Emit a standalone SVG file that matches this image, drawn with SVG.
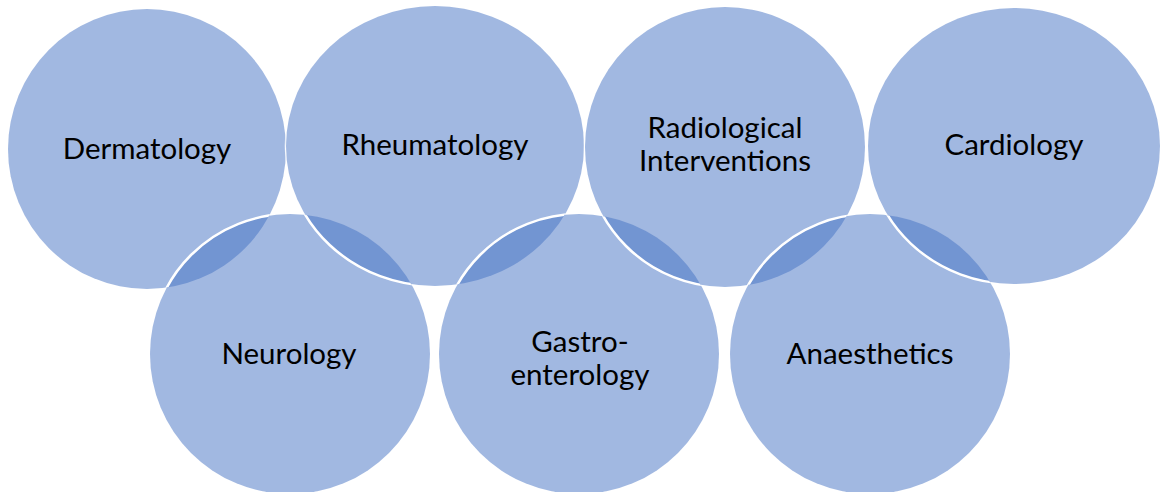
<svg xmlns="http://www.w3.org/2000/svg" xmlns:xlink="http://www.w3.org/1999/xlink" width="1162" height="492" viewBox="0 0 1162 492">
  <style>
    .ring { fill: #4472C4; fill-opacity: 0.5; stroke: none; }
    .edge { fill: none; stroke: #FFFFFF; stroke-width: 2.5; }
    .label { font-family: Lato, "Liberation Sans", sans-serif; font-size: 29.5px; fill: #000000; text-anchor: middle; }
  </style>
  <defs>
    <!-- ring outlines, shared by fills, clips and over-edges -->
    <ellipse id="shape-derm" cx="147" cy="149" rx="139" ry="140"/>
    <ellipse id="shape-rheum" cx="435" cy="146" rx="149" ry="140"/>
    <ellipse id="shape-radio" cx="725" cy="147" rx="140" ry="140"/>
    <ellipse id="shape-cardio" cx="1014" cy="146" rx="146" ry="138"/>
    <ellipse id="shape-neuro" cx="290" cy="354" rx="140" ry="140"/>
    <ellipse id="shape-gastro" cx="579" cy="354" rx="140" ry="140"/>
    <ellipse id="shape-anaes" cx="870" cy="354" rx="140" ry="140"/>
    <clipPath id="in-derm"><use xlink:href="#shape-derm"/></clipPath>
    <clipPath id="in-rheum"><use xlink:href="#shape-rheum"/></clipPath>
    <clipPath id="in-radio"><use xlink:href="#shape-radio"/></clipPath>
    <clipPath id="in-neuro"><use xlink:href="#shape-neuro"/></clipPath>
    <clipPath id="in-gastro"><use xlink:href="#shape-gastro"/></clipPath>
    <clipPath id="in-anaes"><use xlink:href="#shape-anaes"/></clipPath>
  </defs>

  <g id="dermatology">
    <use xlink:href="#shape-derm" class="ring"/>
    <text class="label" x="147" y="159">Dermatology</text>
  </g>
  <g id="rheumatology">
    <use xlink:href="#shape-rheum" class="ring"/>
    <text class="label" x="435" y="155">Rheumatology</text>
  </g>
  <g id="radiological-interventions">
    <use xlink:href="#shape-radio" class="ring"/>
    <text class="label" x="725" y="138">Radiological</text>
    <text class="label" x="725" y="171">Interventions</text>
  </g>
  <g id="cardiology">
    <use xlink:href="#shape-cardio" class="ring"/>
    <text class="label" x="1014" y="155">Cardiology</text>
  </g>
  <g id="neurology">
    <use xlink:href="#shape-neuro" class="ring"/>
    <text class="label" x="289" y="364">Neurology</text>
  </g>
  <g id="gastroenterology">
    <use xlink:href="#shape-gastro" class="ring"/>
    <text class="label" x="580" y="352">Gastro-</text>
    <text class="label" x="580" y="385">enterology</text>
  </g>
  <g id="anaesthetics">
    <use xlink:href="#shape-anaes" class="ring"/>
    <text class="label" x="870" y="364">Anaesthetics</text>
  </g>

  <!-- interlocking: the upper ring's rim is drawn inside the ring it passes over -->
  <g id="connectors">
    <use xlink:href="#shape-rheum" class="edge" clip-path="url(#in-derm)"/>
    <use xlink:href="#shape-neuro" class="edge" clip-path="url(#in-derm)"/>
    <use xlink:href="#shape-rheum" class="edge" clip-path="url(#in-neuro)"/>
    <use xlink:href="#shape-gastro" class="edge" clip-path="url(#in-rheum)"/>
    <use xlink:href="#shape-radio" class="edge" clip-path="url(#in-rheum)"/>
    <use xlink:href="#shape-radio" class="edge" clip-path="url(#in-gastro)"/>
    <use xlink:href="#shape-anaes" class="edge" clip-path="url(#in-radio)"/>
    <use xlink:href="#shape-cardio" class="edge" clip-path="url(#in-radio)"/>
    <use xlink:href="#shape-cardio" class="edge" clip-path="url(#in-anaes)"/>
  </g>
</svg>
